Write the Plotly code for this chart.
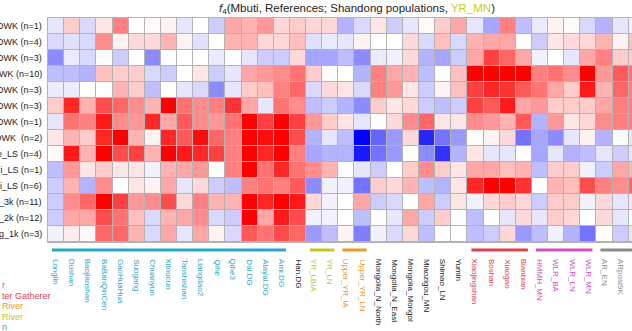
import plotly.graph_objects as go

# ---------------- data ----------------
row_labels = ["DWK (n=1)", "DWK (n=4)", "DWK (n=3)", "WK (n=10)", "DWK (n=3)",
              "DWK (n=3)", "DWK (n=1)", "DWK  (n=2)", "e_LS (n=4)", "zi_LS (n=1)",
              "ai_LS (n=6)", "_3k (n=11)", "_2k (n=12)", "g_1k (n=3)"]

col_labels = ["Longlin", "Dushan", "Baojianshan", "BaBanQinCen", "GaoHuaHua", "Suogang",
              "Chuanyun", "Xitoucun", "Tanshishan", "Liangdao2", "Qihe", "Qihe3",
              "Dai.DG", "Atayal.DG", "Ami.DG", "Han.DG", "YR_LBIA", "YR_LN",
              "Upper_YR_IA", "Upper_YR_LN", "Mongolia_N_North", "Mongolia_N_East",
              "Mongolia_Mongol", "Miaozigou_MN", "Shimao_LN", "Yumin",
              "Xiaojingshan", "Boshan", "Xiaogao", "Bianbian",
              "HMMH_MN", "WLR_BA", "WLR_LN", "WLR_MN", "AR_EN", "ARpost9K", ""]

col_groups = (["south"] * 15 + ["black"] + ["yr"] * 2 + ["uyr"] * 2 + ["black"] * 6 +
              ["sd"] * 4 + ["wlr"] * 4 + ["ar"] * 3)

values = [
    [-0.1, 0.2, -0.15, 0.1, 0.5, 0.0, 0.02, 0.05, -0.1, 0.0, -0.2, 0.35, 0.3, 0.4, 0.15, 0.2, 0.15, 0.15, -0.3, -0.15, 0.1, -0.2, -0.1, 0.02, 0.2, 0.35, -0.1, -0.35, 0.5, -0.25, -0.08, 0.05, 0.02, -0.15, -0.3, -0.1, -0.05],
    [-0.15, -0.12, -0.15, 0.45, 0.05, 0.15, 0.15, 0.3, 0.05, -0.12, 0.0, 0.3, 0.3, 0.15, 0.15, 0.25, -0.12, -0.08, -0.1, 0.05, 0.0, 0.0, 0.15, -0.15, 0.25, -0.15, 0.3, 0.35, 0.35, 0.0, -0.2, 0.1, 0.15, 0.15, 0.3, 0.05, 0.25],
    [-0.45, -0.08, -0.15, 0.0, -0.2, 0.0, -0.45, 0.0, 0.0, 0.0, -0.08, 0.0, -0.1, -0.2, -0.2, 0.15, -0.35, -0.35, -0.25, -0.45, -0.08, -0.05, 0.15, -0.3, -0.35, -0.2, 0.35, 0.75, 0.6, 0.35, -0.05, 0.0, -0.1, 0.35, 0.5, 0.2, 0.2],
    [-0.25, -0.25, -0.3, 0.25, 0.2, 0.2, -0.15, -0.2, 0.0, 0.1, -0.2, -0.1, 0.35, 0.4, 0.45, 0.55, 0.2, 0.0, 0.0, -0.3, 0.5, 0.35, 0.3, -0.25, 0.0, 0.25, 1.0, 1.0, 1.0, 1.0, 0.5, 0.55, 0.45, 1.0, 0.4, 0.65, 0.55],
    [-0.08, -0.08, 0.0, 0.0, 0.3, 0.2, -0.25, 0.0, -0.1, -0.15, -0.45, -0.1, 0.2, 0.25, 0.5, 0.6, -0.15, 0.15, 0.1, -0.15, 0.5, 0.4, 0.1, -0.2, 0.05, 0.25, 0.75, 0.85, 0.8, 0.65, 0.55, 0.35, 0.2, 0.9, 0.3, 0.6, 0.5],
    [0.2, 0.85, 0.3, 0.7, 0.6, 0.45, 0.3, 1.0, 0.55, 0.45, 0.5, 0.8, 0.35, -0.1, 0.55, 0.45, -0.25, -0.2, -0.3, -0.45, 0.2, 0.1, 0.15, -0.2, -0.25, -0.2, 0.75, 0.65, 0.9, 0.35, 0.4, 0.2, 0.2, 0.2, 0.35, 0.5, 0.5],
    [-0.1, 0.55, 0.5, 0.9, 0.45, 0.4, 0.85, 0.35, 0.65, 0.45, 0.4, 0.55, 1.0, 0.75, 1.0, 0.75, 0.4, 0.2, 0.1, -0.1, 0.0, 0.15, 0.45, 0.6, 0.1, 0.1, 0.45, 0.4, 0.3, 0.65, -0.3, 0.4, 0.1, 0.15, 0.45, 0.5, 0.5],
    [0.1, 0.3, 0.2, 0.85, 1.0, 0.3, 0.05, 0.85, 0.65, 0.95, 0.6, 0.5, 1.0, 0.95, 1.0, 0.7, -0.3, -0.1, -0.25, -1.0, -0.6, -0.4, 0.15, -0.85, -0.55, -0.4, 0.0, 0.05, 0.15, -0.55, -0.35, -0.45, -0.1, 0.05, -0.3, 0.0, -0.1],
    [0.02, 0.9, 0.3, 1.0, 0.7, 0.75, 0.3, 1.0, 0.9, 0.85, 0.75, 0.5, 1.0, 0.85, 1.0, 0.5, -0.35, -0.3, -0.3, -0.9, -0.55, -0.4, 0.0, -0.45, -0.8, -0.3, 0.1, -0.1, -0.1, 0.0, -0.35, -0.1, -0.3, -0.25, -0.1, -0.2, -0.1],
    [-0.25, 0.4, 0.1, 0.2, 0.1, 0.1, -0.05, 0.3, 0.35, 0.4, 0.0, 0.5, 1.0, 0.55, 0.85, 0.55, 0.45, 0.3, 0.0, -0.1, -0.2, 0.0, 0.2, 0.45, 0.2, 0.1, 0.35, 0.35, 0.25, 0.3, -0.25, 0.2, 0.2, -0.05, -0.2, 0.35, 0.3],
    [-0.2, 0.3, -0.3, 0.45, 0.0, 0.1, 0.05, 0.35, -0.1, 0.15, -0.2, -0.25, 0.5, 0.55, 0.5, 0.65, -0.45, -0.05, -0.05, -0.55, 0.2, 0.15, 0.3, -0.25, -0.3, 0.1, 0.85, 1.0, 1.0, 0.8, 0.0, 0.3, 0.25, 0.7, 0.5, 0.45, 0.6],
    [-0.2, 0.45, 0.6, 1.0, 0.75, 0.4, 0.45, 0.7, 0.15, 0.5, 0.3, 0.3, 1.0, 0.85, 1.0, 0.9, 0.15, -0.05, 0.0, 0.35, -0.2, -0.15, 0.0, 0.35, -0.2, 0.1, -0.05, 0.15, 0.2, 0.15, -0.2, 0.2, 0.2, -0.05, 0.15, -0.1, 0.1],
    [-0.2, 0.35, 0.35, 0.7, 0.55, 0.25, -0.15, 0.3, 0.35, 0.45, -0.15, -0.2, 1.0, 0.35, 0.9, 0.7, -0.05, -0.05, 0.0, -0.25, 0.0, -0.1, 0.35, -0.2, 0.2, 0.0, -0.25, 0.0, -0.1, 0.15, -0.1, 0.2, 0.15, 0.0, 0.15, -0.1, 0.0],
    [-0.05, 0.08, 0.02, 0.6, 0.6, 0.3, -0.15, 0.35, -0.1, 0.35, 0.05, -0.15, 0.65, 0.55, 0.7, 0.6, -0.4, -0.25, 0.05, -0.5, -0.05, -0.15, 0.15, -0.25, 0.0, 0.0, -0.25, -0.2, 0.15, -0.4, -0.25, -0.05, -0.3, -0.55, 0.0, -0.2, -0.1],
]

legend_texts = ["r", "ter Gatherer", "River", "River", "n"]
legend_groups = ["wlr", "sd", "uyr", "yr", "south"]

# ---------------- styling ----------------
W, H = 632, 331
L, T = 48, 18
CW = 16.13
RH = 16
nrow = len(row_labels)
plot_w = W - L
plot_h = nrow * RH
B = H - T - plot_h

group_color = {"south": "#2ba6c9", "black": "#1a1a1a", "yr": "#cbc21a", "uyr": "#e39b2a",
               "sd": "#d8434f", "wlr": "#d14cc3", "ar": "#8a8a8a"}

FONT = "Liberation Sans, Arial, sans-serif"

def px_x(p):
    return (p - L) / plot_w

def px_y(p):
    return (T + plot_h - p) / plot_h

ncol = len(col_labels)
fig = go.Figure(go.Heatmap(
    z=values, x=list(range(ncol)), y=list(range(nrow)),
    zmin=-1, zmax=1,
    colorscale=[[0, "rgb(0,0,255)"], [0.5, "rgb(255,255,255)"], [1, "rgb(255,0,0)"]],
    xgap=1, ygap=1, showscale=False, hoverinfo="skip"))

xmax = -0.5 + plot_w / CW
fig.update_xaxes(range=[-0.5, xmax], showticklabels=False, showgrid=False, zeroline=False,
                 showline=True, mirror=True, linecolor="#b3b3b3", linewidth=1, ticks="")
fig.update_yaxes(range=[nrow - 0.5, -0.5], showticklabels=False, showgrid=False, zeroline=False,
                 showline=True, mirror=True, linecolor="#b3b3b3", linewidth=1, ticks="")

ann = []
for i, lab in enumerate(row_labels):
    ann.append(dict(x=px_x(44), y=i, xref="paper", yref="y", text=lab, showarrow=False,
                    xanchor="right", yanchor="middle", font=dict(size=9, color="#222", family=FONT)))
for j, lab in enumerate(col_labels):
    if not lab:
        continue
    ann.append(dict(x=j, y=px_y(257), xref="x", yref="paper", text=lab, showarrow=False,
                    textangle=90, xanchor="center", yanchor="top",
                    font=dict(size=8, color=group_color[col_groups[j]], family=FONT)))
ann.append(dict(x=px_x(497), y=px_y(9), xref="paper", yref="paper", xanchor="right", yanchor="middle",
                showarrow=False,
                text="<i>f</i><sub>4</sub>(Mbuti, References; Shandong populations, "
                     "<span style='color:#d3c81a'>YR_MN</span>)",
                font=dict(size=11.5, color="#222", family=FONT)))
for k, (t, g) in enumerate(zip(legend_texts, legend_groups)):
    ann.append(dict(x=px_x(0), y=px_y(285 + k * 10.5), xref="paper", yref="paper",
                    xanchor="left", yanchor="middle", showarrow=False, text=t,
                    font=dict(size=9, color=group_color[g], family=FONT)))

shapes = []
bar_y = px_y(250)
start = 0
for j in range(1, ncol + 1):
    if j == ncol or col_groups[j] != col_groups[start]:
        g = col_groups[start]
        if g != "black":
            x0 = start - 0.25
            x1 = (j - 1) + 0.25 if j < ncol else j + 2
            shapes.append(dict(type="line", xref="x", yref="paper", x0=x0, x1=x1, y0=bar_y, y1=bar_y,
                               line=dict(color=group_color[g], width=3)))
        start = j

fig.update_layout(width=W, height=H, margin=dict(l=L, r=0, t=T, b=B),
                  paper_bgcolor="white", plot_bgcolor="#b3b3b3",
                  annotations=ann, shapes=shapes, showlegend=False)

fig.write_html("out.html")
